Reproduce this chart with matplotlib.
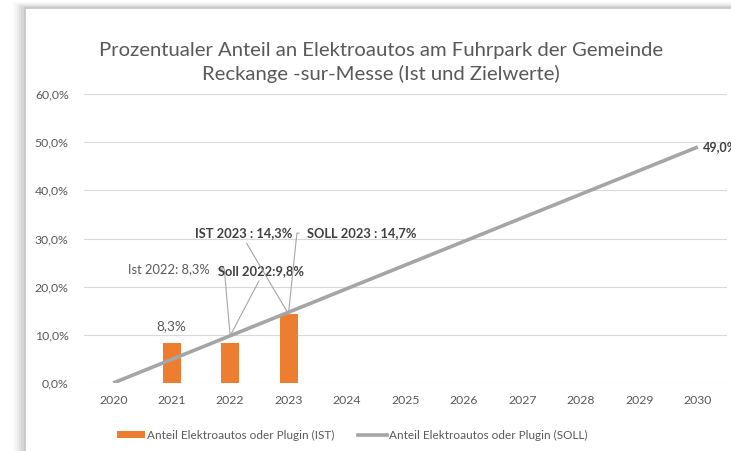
import matplotlib.pyplot as plt
from matplotlib.patches import Rectangle, Patch
from matplotlib.lines import Line2D

plt.rcParams['font.family'] = ['Lato', 'DejaVu Sans']

# data
years = [2020, 2021, 2022, 2023, 2024, 2025, 2026, 2027, 2028, 2029, 2030]
ist_years = [2021, 2022, 2023]
ist_values = [8.3, 8.3, 14.3]
soll_years = [2020, 2030]
soll_values = [0.0, 49.0]
y_ticks = [0, 10, 20, 30, 40, 50, 60]

orange = '#ed7d31'
gray = '#a5a5a5'
txt = '#595959'
dark = '#404040'

W, H = 731, 451
fig = plt.figure(figsize=(W / 100, H / 100), dpi=100)
ax = fig.add_axes([84 / W, 1 - 383 / H, (727 - 84) / W, (383 - 94) / H])

# chart frame with a soft shadow
for i, a in enumerate([0.02, 0.025, 0.03, 0.04, 0.05]):
    off = (6 - i) * 2
    fig.add_artist(Rectangle(((25 - off) / W, -0.1), 1.2, 1.1 - (8 - off * 0.5) / H,
                             transform=fig.transFigure, facecolor='black',
                             edgecolor='none', alpha=a, zorder=-3))
fig.add_artist(Rectangle((25 / W, -0.1), 1.2, 1.1 - 8 / H, transform=fig.transFigure,
                         facecolor='white', edgecolor='#c4c4c4', lw=1.2, zorder=-2))
ax.set_facecolor('none')

ax.bar(ist_years, ist_values, 0.31, color=orange, zorder=3,
       label='Anteil Elektroautos oder Plugin (IST)')
ax.plot(soll_years, soll_values, color=gray, lw=2.6, zorder=4,
        solid_capstyle='butt', label='Anteil Elektroautos oder Plugin (SOLL)')

ax.set_xlim(2019.5, 2030.5)
ax.set_ylim(0, 60)
ax.set_xticks(years)
ax.set_xticklabels([str(y) for y in years])
ax.set_yticks(y_ticks)
ax.set_yticklabels([f'{v:.1f}%'.replace('.', ',') for v in y_ticks])
ax.tick_params(length=0, labelsize=8.8, labelcolor=txt)
ax.tick_params(axis='x', pad=9)
ax.tick_params(axis='y', pad=11)
ax.grid(axis='y', color='#d9d9d9', lw=0.8)
ax.set_axisbelow(True)
for s in ax.spines.values():
    s.set_visible(False)

fig.text(381 / W, 1 - 62.5 / H,
         'Prozentualer Anteil an Elektroautos am Fuhrpark der Gemeinde\nReckange -sur-Messe (Ist und Zielwerte)',
         ha='center', va='center', fontsize=14.6, color=txt, linespacing=1.4)

# data labels and callouts
ax.annotate('8,3%', (ist_years[0], ist_values[0]), xytext=(0, 12),
            textcoords='offset points', ha='center', va='center', fontsize=9.8, color=txt)
ax.annotate('49,0%', (soll_years[1], soll_values[1]), xytext=(3.5, 0),
            textcoords='offset points', ha='left', va='center', fontsize=9,
            fontweight='bold', color=dark, annotation_clip=False)

lead = dict(arrowstyle='-', color='#a6a6a6', lw=0.8, shrinkB=0)
soll22 = soll_values[1] * (2022 - 2020) / 10
soll23 = soll_values[1] * (2023 - 2020) / 10
fs = 9.3
ax.annotate('Ist 2022: 8,3%', (2022, soll22), xytext=(-14.4, 48.2),
            textcoords='offset points', ha='right', va='center', fontsize=fs, color=txt,
            arrowprops=dict(lead, relpos=(1, 0.5), shrinkA=3.6,
                            connectionstyle='angle,angleA=0,angleB=95,rad=0'))
ax.annotate('Soll 2022:9,8%', (2022, soll22), xytext=(22.3, 46.8),
            textcoords='offset points', ha='center', va='center', fontsize=fs,
            fontweight='bold', color=dark,
            arrowprops=dict(lead, relpos=(0.5, 0), shrinkA=1))
ax.annotate('IST 2023 : 14,3%', (2023, ist_values[2]), xytext=(-32, 58.3),
            textcoords='offset points', ha='center', va='center', fontsize=fs,
            fontweight='bold', color=dark,
            arrowprops=dict(lead, relpos=(0.5, 0), shrinkA=1))
ax.annotate('SOLL 2023 : 14,7%', (2023, soll23), xytext=(13.3, 56.9),
            textcoords='offset points', ha='left', va='center', fontsize=fs,
            fontweight='bold', color=dark,
            arrowprops=dict(lead, relpos=(0, 0.5), shrinkA=3.6,
                            connectionstyle='angle,angleA=180,angleB=84,rad=0'))

handles = [Patch(facecolor=orange, edgecolor='none'),
           Line2D([], [], color=gray, lw=2.6)]
fig.legend(handles, ['Anteil Elektroautos oder Plugin (IST)', 'Anteil Elektroautos oder Plugin (SOLL)'],
           loc='center', bbox_to_anchor=(352 / W, 1 - 435 / H), ncol=2, frameon=False,
           fontsize=8.5, labelcolor=txt, handlelength=2.4, handleheight=0.55,
           handletextpad=0.2, columnspacing=2.0)

fig.savefig('out.png', dpi=100)
